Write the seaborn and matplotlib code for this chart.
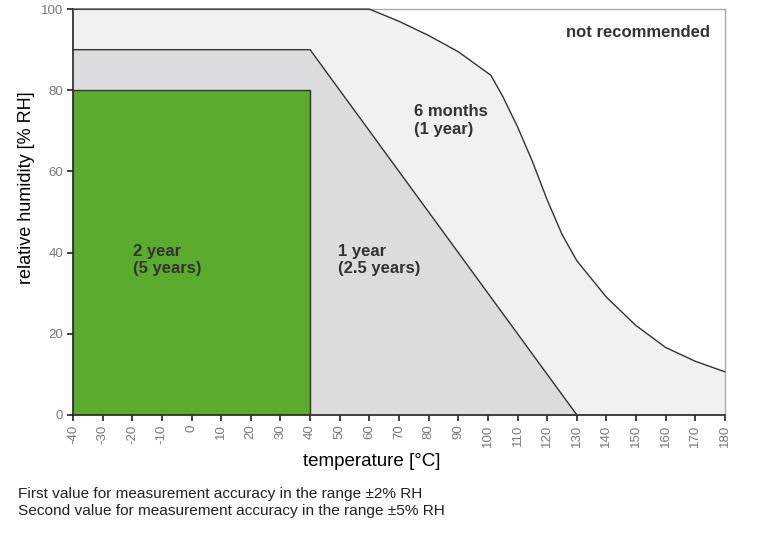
import numpy as np
import pandas as pd
import matplotlib
matplotlib.use("Agg")
import matplotlib.pyplot as plt
import seaborn as sns

sns.set_style("white")
plt.rcParams['font.family'] = ['Liberation Sans', 'DejaVu Sans']

# outer limit (6 months / 1 year)
temp_6m = [-40, 60, 70, 80, 90, 101, 105, 110, 115, 120, 125, 130, 135, 140, 145, 150, 160, 170, 180]
rh_6m = [100, 100, 97, 93.5, 89.5, 83.7, 78.5, 71, 62.5, 53, 44.5, 38, 33.5, 29, 25.5, 22, 16.6, 13.2, 10.6]

# middle limit (1 year / 2.5 years)
temp_1y = [-40, 40, 130]
rh_1y = [90, 90, 0]

# inner limit (2 year / 5 years)
temp_2y = [-40, 40, 40]
rh_2y = [80, 80, 0]

xticks = list(range(-40, 181, 10))
yticks = [0, 20, 40, 60, 80, 100]

df_6m = pd.DataFrame({"temp": temp_6m, "rh": rh_6m})
df_1y = pd.DataFrame({"temp": temp_1y, "rh": rh_1y})
df_2y = pd.DataFrame({"temp": temp_2y, "rh": rh_2y})

fig = plt.figure(figsize=(7.68, 5.36), dpi=100)
ax = fig.add_axes([0.095, 0.226, 0.849, 0.757])

ax.fill_between(df_6m["temp"], 0, df_6m["rh"], color="#f1f1f1", lw=0)
ax.fill_between(df_1y["temp"], 0, df_1y["rh"], color="#dcdcde", lw=0)
ax.fill_between(df_2y["temp"], 0, df_2y["rh"], color="#5aab2e", lw=0)

for d in [df_6m, df_1y, df_2y]:
    sns.lineplot(x="temp", y="rh", data=d, ax=ax, color="#333333", lw=1,
                 sort=False, estimator=None, clip_on=False, zorder=3)

ax.set_xlim(-40, 180)
ax.set_ylim(0, 100)
ax.set_xticks(xticks)
ax.set_yticks(yticks)
ax.set_xticklabels([str(t) for t in xticks], rotation=90, color="#7a7a7a", fontsize=9.5)
ax.set_yticklabels([str(t) for t in yticks], color="#7a7a7a", fontsize=9.5)
ax.tick_params(axis="both", direction="out", length=4, width=1.2, color="#222222", pad=3)
ax.tick_params(left=True, bottom=True)

for side in ["top", "right"]:
    ax.spines[side].set_color("#aaaaaa")
    ax.spines[side].set_linewidth(1)
for side in ["left", "bottom"]:
    ax.spines[side].set_color("#222222")
    ax.spines[side].set_linewidth(1.2)

ax.set_xlabel("temperature [°C]", fontsize=13.5, color="black")
ax.set_ylabel("relative humidity [% RH]", fontsize=13, color="black")
ax.xaxis.set_label_coords(0.4586, -0.095)
ax.yaxis.set_label_coords(-0.058, 0.56)

txt = dict(fontsize=12, fontweight="bold", color="#333333", ha="left", va="top", linespacing=1.2)
ax.text(126.5, 96.2, "not recommended", **txt)
ax.text(75, 76.5, "6 months\n(1 year)", **txt)
ax.text(49.5, 42.2, "1 year\n(2.5 years)", **txt)
ax.text(-19.8, 42.2, "2 year\n(5 years)", **txt)

fig.text(0.023, 0.063, "First value for measurement accuracy in the range ±2% RH\n"
         "Second value for measurement accuracy in the range ±5% RH",
         fontsize=11.1, color="#222222", ha="left", va="center", linespacing=1.3)

plt.savefig("out.png", dpi=100)
plt.close()
